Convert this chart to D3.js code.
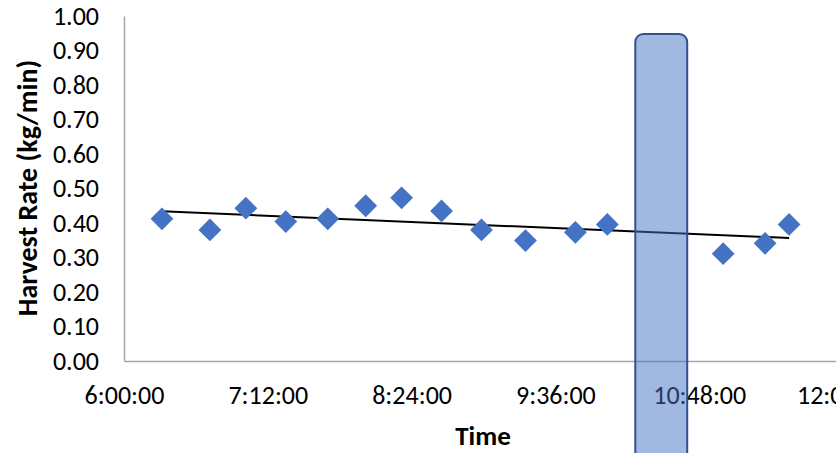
<!DOCTYPE html>
<html>
<head>
<meta charset="utf-8">
<script src="https://cdn.jsdelivr.net/npm/d3@7"></script>
<style>
  html, body { margin: 0; padding: 0; background: #fff; }
  svg { display: block; }
  text { font-family: Carlito, Lato, "Open Sans", sans-serif; }
</style>
</head>
<body>
<svg id="chart" width="836" height="453"></svg>
<script>
// ---- data ----
const times = ["6:19","6:43","7:01","7:21","7:42","8:01","8:19","8:39","8:59","9:21","9:46","10:02","11:00","11:21","11:33"];
const rates = [0.412,0.380,0.443,0.404,0.412,0.450,0.473,0.435,0.380,0.349,0.373,0.396,0.311,0.341,0.396];
const xTickLabels = ["6:00:00","7:12:00","8:24:00","9:36:00","10:48:00","12:00:00"];
const yTickValues = [0,0.1,0.2,0.3,0.4,0.5,0.6,0.7,0.8,0.9,1.0];
const breakWindow = ["10:16","10:42"];
const xTitle = "Time";
const yTitle = "Harvest Rate (kg/min)";

// ---- helpers ----
const toDate = s => { const p = s.split(":").map(Number); return new Date(2000,0,1,p[0],p[1],p[2]||0); };
const pts = times.map((t,i) => ({t: toDate(t), v: rates[i]}));

const svg = d3.select("#chart");

const x = d3.scaleTime()
  .domain([toDate("6:00:00"), toDate("12:00:00")])
  .range([124, 843]);
const y = d3.scaleLinear().domain([0,1]).range([361, 16]);

// axes
const xAxis = d3.axisBottom(x)
  .tickValues(xTickLabels.map(toDate))
  .tickFormat(d3.timeFormat("%-H:%M:%S"))
  .tickSize(0).tickPadding(25);
const gx = svg.append("g").attr("transform", `translate(0,${y(0)})`).call(xAxis);
gx.select(".domain").attr("stroke", "#a6a6a6").attr("stroke-width", 1.5);
gx.selectAll("text").attr("font-size", 26).attr("fill", "#000");

const yAxis = d3.axisLeft(y).tickValues(yTickValues).tickFormat(d3.format(".2f")).tickSize(0).tickPadding(25);
const gy = svg.append("g").attr("transform", `translate(${x.range()[0]},0)`).call(yAxis);
gy.select(".domain").attr("stroke", "#a6a6a6").attr("stroke-width", 1.5);
gy.selectAll("text").attr("font-size", 26).attr("fill", "#000");

// trendline (least squares)
const tx = pts.map(p => +p.t), vy = pts.map(p => p.v);
const mx = d3.mean(tx), my = d3.mean(vy);
const slope = d3.sum(tx.map((a,i)=>(a-mx)*(vy[i]-my))) / d3.sum(tx.map(a=>(a-mx)*(a-mx)));
const icpt = my - slope*mx;
const t0 = tx[0], t1 = tx[tx.length-1];
svg.append("line")
  .attr("x1", x(new Date(t0))).attr("y1", y(icpt + slope*t0))
  .attr("x2", x(new Date(t1))).attr("y2", y(icpt + slope*t1))
  .attr("stroke", "#000").attr("stroke-width", 2);

// markers
const diamond = d3.symbol().type(d3.symbolSquare).size(260);
svg.append("g").selectAll("path").data(pts).join("path")
  .attr("d", diamond)
  .attr("transform", d => `translate(${x(d.t)},${y(d.v)}) rotate(45)`)
  .attr("fill", "#4472C4");

// highlight window
const bx0 = x(toDate(breakWindow[0])), bx1 = x(toDate(breakWindow[1]));
svg.append("rect")
  .attr("x", bx0).attr("y", 34)
  .attr("width", bx1 - bx0).attr("height", 440)
  .attr("rx", 8).attr("ry", 8)
  .attr("fill", "#4472C4").attr("fill-opacity", 0.5)
  .attr("stroke", "#2F528F").attr("stroke-width", 2);

// titles
svg.append("text").attr("x", 483).attr("y", 445)
  .attr("text-anchor", "middle").attr("font-size", 27).attr("font-weight", "bold")
  .text(xTitle);
svg.append("text").attr("transform", "translate(37,188) rotate(-90)")
  .attr("text-anchor", "middle").attr("font-size", 28).attr("font-weight", "bold")
  .text(yTitle);
</script>
</body>
</html>
